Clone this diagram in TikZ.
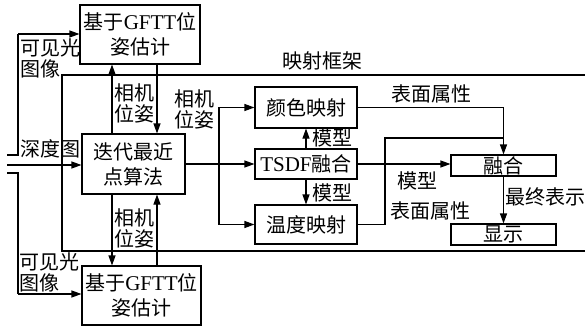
\documentclass[tikz,border=0pt]{standalone}
\usepackage{fontspec}
\setmainfont{Liberation Serif}
\newfontfamily\cjk{Noto Sans CJK SC}
\usetikzlibrary{arrows.meta}
\begin{document}
\begin{tikzpicture}[x=1pt,y=-1pt,
  every node/.style={font=\cjk\fontsize{20}{25}\selectfont},
  box/.style={draw, line width=1.1pt, inner sep=0pt, align=center},
  lbl/.style={inner sep=0pt, align=left, font=\cjk\fontsize{20}{21}\selectfont},
  ln/.style={line width=1.1pt},
  arr/.style={line width=1.1pt, -{Triangle[length=10pt,width=7pt]}}]
\useasboundingbox (0,0) rectangle (585,329);
% frame
\node[draw, line width=1.1pt, minimum width=530pt, minimum height=176pt, inner sep=0pt] (frame) at (327,163) {};
\node[inner sep=0pt] (ftitle) at (322,61) {映射框架};
% boxes
\node[box, minimum width=120pt, minimum height=59pt] (gtop) at (140,34.5) {基于{\rmfamily\fontsize{21}{25}\selectfont GFTT}位\\姿估计};
\node[box, minimum width=103pt, minimum height=60pt] (icp) at (133.5,164) {迭代最近\\点算法};
\node[box, minimum width=119pt, minimum height=59pt] (gbot) at (141.5,295.5) {基于{\rmfamily\fontsize{21}{25}\selectfont GFTT}位\\姿估计};
\node[box, minimum width=102pt, minimum height=41pt] (color) at (306,107.5) {颜色映射};
\node[box, minimum width=102pt, minimum height=30pt] (tsdf) at (306,164) {{\rmfamily\fontsize{21}{25}\selectfont TSDF}融合};
\node[box, minimum width=102pt, minimum height=39pt] (temp) at (306,224.5) {温度映射};
\node[box, minimum width=105pt, minimum height=21pt] (fuse) at (503.5,165.5) {融合};
\node[box, minimum width=105pt, minimum height=21pt] (disp) at (503.5,234.5) {显示};
% helper columns
\coordinate (xa) at (112,0);
\coordinate (xb) at (157,0);
% inputs
\coordinate (inA) at (7,155);
\coordinate (inB) at (7,165);
\coordinate (inC) at (7,173);
\draw[ln] (inA) -- (18,155) -- (18,34) coordinate (tA);
\draw[arr] (tA) -- (gtop.west |- tA);
\draw[arr] (inB) -- (icp.west |- inB);
\draw[ln] (inC) -- (18,173) -- (18,294) coordinate (tC);
\draw[arr] (tC) -- (gbot.west |- tC);
\node[lbl] (visA) at (50,58) {可见光\\图像};
\node[lbl] (dep) at (50,149) {深度图};
\node[lbl] (visB) at (49,272) {可见光\\图像};
% pose exchange
\draw[arr] (xb |- gtop.south) -- (xb |- icp.north);
\draw[arr] (xa |- icp.north) -- (xa |- gtop.south);
\node[lbl] (pose1) at (134,103) {相机\\位姿};
\draw[arr] (xa |- icp.south) -- (xa |- gbot.north);
\draw[arr] (xb |- gbot.north) -- (xb |- icp.south);
\node[lbl] (pose2) at (134,228) {相机\\位姿};
% to mapping
\draw[arr] (icp.east) -- (tsdf.west);
\coordinate (br) at (219,164);
\draw[arr] (br) |- (color.west);
\draw[arr] (br) |- (temp.west);
\node[lbl] (pose3) at (194,109) {相机\\位姿};
\draw[arr] (tsdf.north) -- (color.south);
\draw[arr] (tsdf.south) -- (temp.north);
\node[lbl] (m1) at (332,138) {模型};
\node[lbl] (m2) at (332,193) {模型};
% to fusion
\draw[arr] (color.east) -| (fuse.north);
\draw[ln] (temp.east) -- (385,224.5) -- (385,138) -- (503.5,138);
\draw[arr] (tsdf.east) -- (fuse.west |- tsdf.east);
\node[lbl] (s1) at (431,94) {表面属性};
\node[lbl] (s2) at (430,211) {表面属性};
\node[lbl] (m3) at (417,181) {模型};
\draw[arr] (fuse.south) -- (disp.north);
\node[lbl] (fin) at (545,197) {最终表示};
\end{tikzpicture}
\end{document}
